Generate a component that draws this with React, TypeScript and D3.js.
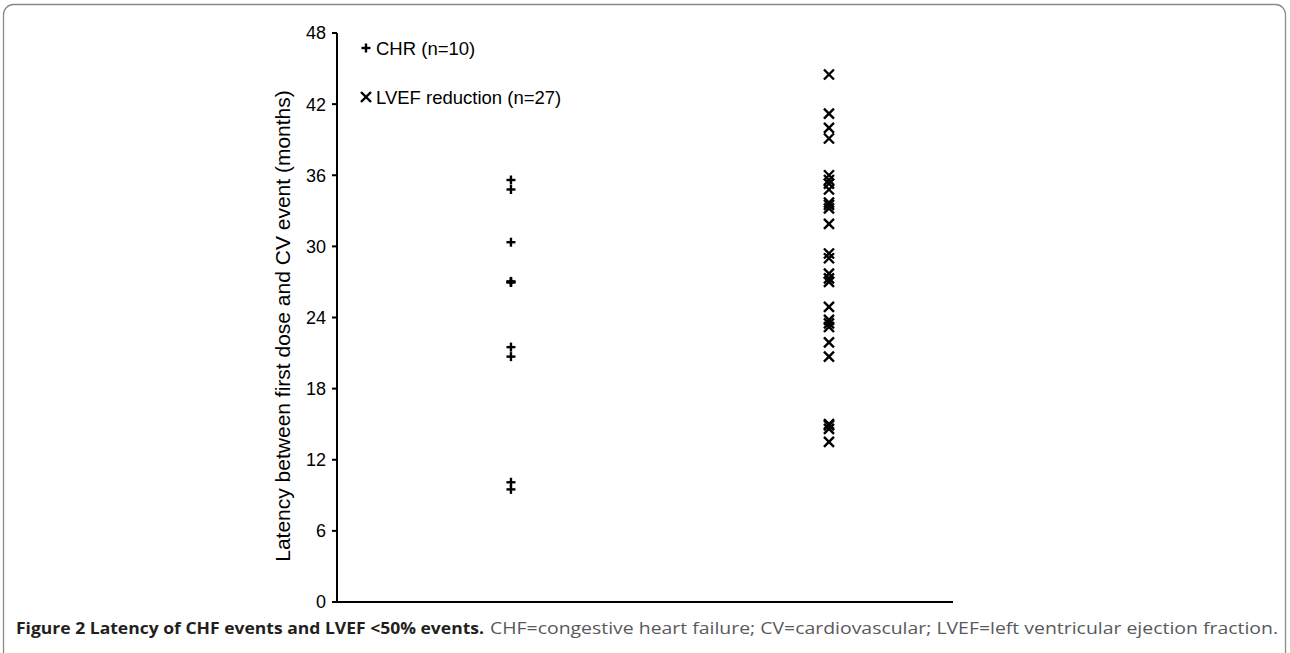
import React from "react";
import * as d3 from "d3";

const categories = ["CHR (n=10)", "LVEF reduction (n=27)"];
const yTicks = [0, 6, 12, 18, 24, 30, 36, 42, 48];
const chrValues = [35.6, 34.8, 30.35, 27.05, 26.95, 27.0, 21.5, 20.7, 10.1, 9.5];
const lvefValues = [
  44.5, 41.2, 40.0, 39.1, 36.0, 35.6, 35.3, 34.8, 33.7, 33.5, 33.2, 31.9,
  29.4, 29.0, 27.7, 27.3, 27.0, 24.9, 23.8, 23.5, 23.2, 21.9, 20.7, 15.0,
  14.9, 14.6, 13.5,
];
const yTitle = "Latency between first dose and CV event (months)";
const captionBold = "Figure 2 Latency of CHF events and LVEF <50% events.";
const captionRest =
  "CHF=congestive heart failure; CV=cardiovascular; LVEF=left ventricular ejection fraction.";

const W = 1290;
const H = 653;
const FONT = "'Liberation Sans', Arial, sans-serif";

export default function App() {
  const y = d3.scaleLinear().domain([0, 48]).range([602, 33]);
  const x = d3.scaleLinear().domain([0.453, 2.39]).range([337, 953]);
  const [x0, x1] = x.range();

  const plus = (cx: number, cy: number, k: string) => (
    <g key={k} stroke="#000" strokeWidth={2.4}>
      <line x1={cx - 4.5} x2={cx + 4.5} y1={cy} y2={cy} />
      <line x1={cx} x2={cx} y1={cy - 4.5} y2={cy + 4.5} />
    </g>
  );
  const cross = (cx: number, cy: number, k: string) => (
    <g key={k} stroke="#000" strokeWidth={2.4}>
      <line x1={cx - 5} x2={cx + 5} y1={cy - 5} y2={cy + 5} />
      <line x1={cx - 5} x2={cx + 5} y1={cy + 5} y2={cy - 5} />
    </g>
  );

  return (
    <svg
      width={W}
      height={H}
      style={{ position: "absolute", left: 0, top: 0, background: "#fff" }}
    >
      <rect
        x={3.5}
        y={4.5}
        width={1282}
        height={660}
        rx={10}
        fill="none"
        stroke="#8a8a8a"
        strokeWidth={1.3}
      />
      {/* axes */}
      <line x1={x0} x2={x0} y1={y(48)} y2={y(0)} stroke="#000" strokeWidth={2} />
      <line x1={x0} x2={x1} y1={y(0)} y2={y(0)} stroke="#000" strokeWidth={2} />
      {yTicks.map((t) => (
        <g key={t}>
          <line x1={x0 - 5} x2={x0} y1={y(t)} y2={y(t)} stroke="#000" strokeWidth={2} />
          <text
            x={x0 - 11}
            y={y(t)}
            dy="0.36em"
            textAnchor="end"
            fontFamily={FONT}
            fontSize={18}
            fill="#000"
          >
            {t}
          </text>
        </g>
      ))}
      <text
        transform={`translate(290, 326) rotate(-90)`}
        textAnchor="middle"
        fontFamily={FONT}
        fontSize={21}
        fill="#000"
      >
        {yTitle}
      </text>
      {/* data */}
      {chrValues.map((v, i) => plus(x(1), y(v), "c" + i))}
      {lvefValues.map((v, i) => cross(x(2), y(v), "l" + i))}
      {/* legend */}
      {plus(366, 48, "lg1")}
      <text x={376} y={48} dy="0.36em" fontFamily={FONT} fontSize={18.5} fill="#000">
        {categories[0]}
      </text>
      {cross(366, 97, "lg2")}
      <text x={376} y={97} dy="0.36em" fontFamily={FONT} fontSize={18.5} fill="#000">
        {categories[1]}
      </text>
      {/* caption */}
      <text
        x={16}
        y={634}
        fontFamily="'Open Sans', 'Noto Sans', sans-serif"
        fontSize={15.5}
        fontWeight="bold"
        fill="#231f20"
        textLength={468}
        lengthAdjust="spacingAndGlyphs"
      >
        {captionBold}
      </text>
      <text
        x={490}
        y={634}
        fontFamily="'Open Sans', 'Noto Sans', sans-serif"
        fontSize={15.5}
        fill="#58595b"
        textLength={788}
        lengthAdjust="spacingAndGlyphs"
      >
        {captionRest}
      </text>
    </svg>
  );
}
